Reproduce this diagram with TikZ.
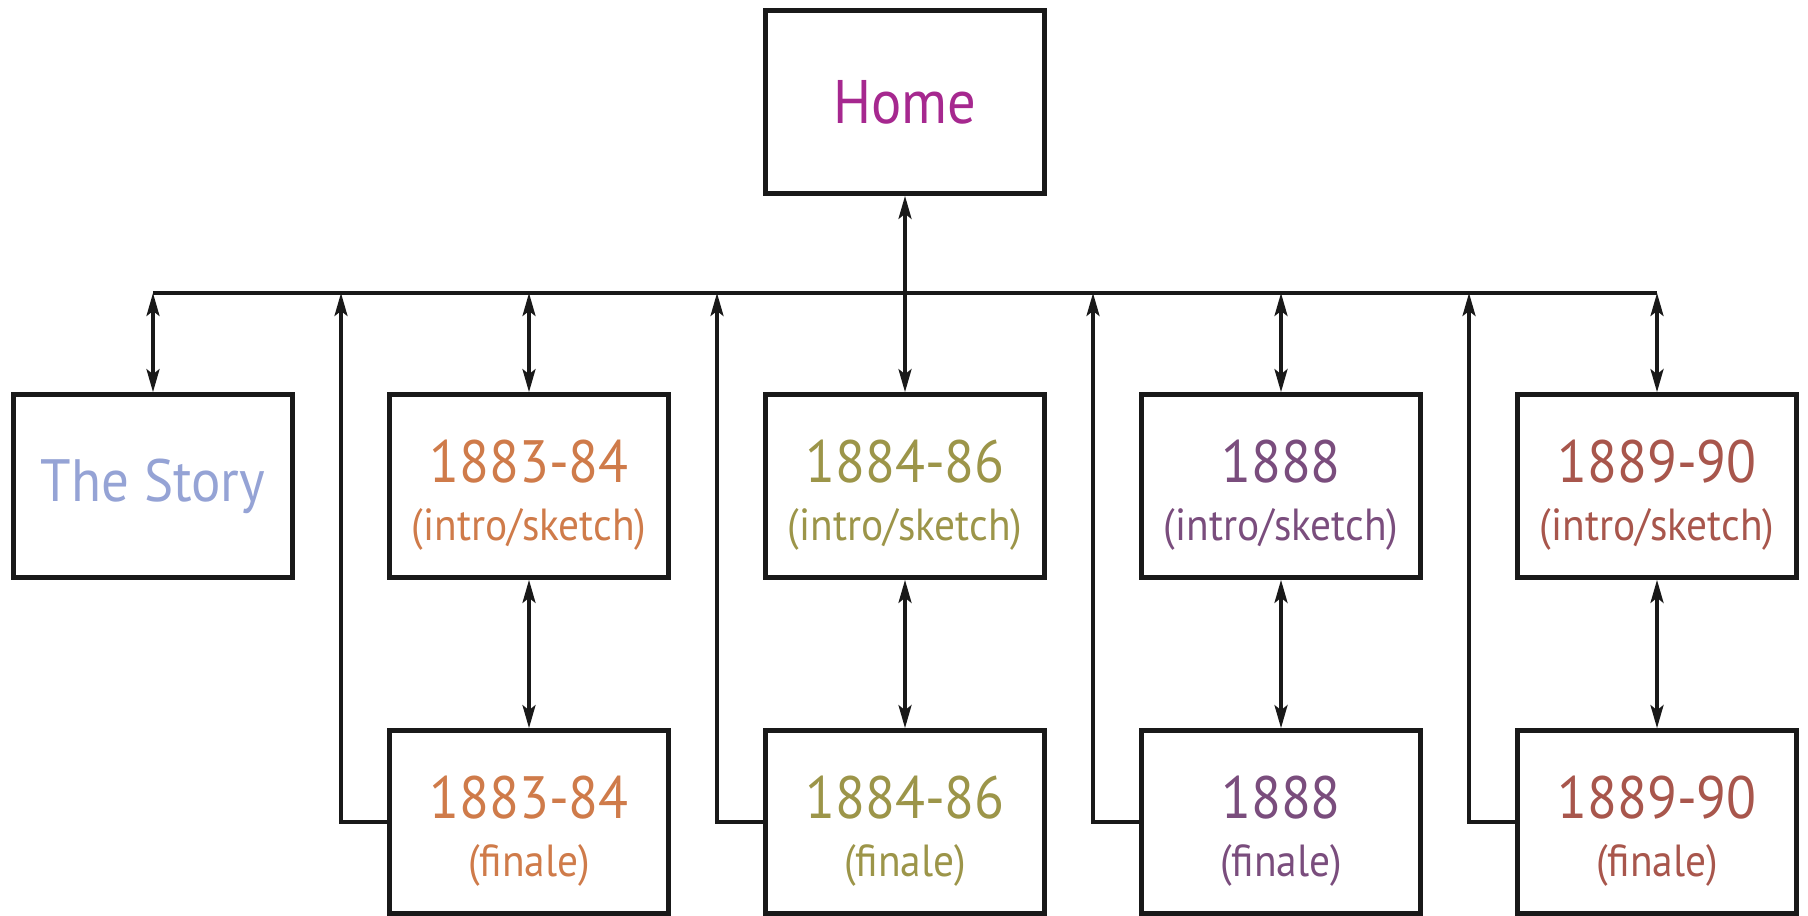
\documentclass[tikz,border=0pt]{standalone}
\usepackage{fontspec}
\setmainfont[FakeStretch=0.92]{PT Sans}
\usetikzlibrary{arrows.meta,positioning}
\definecolor{homecol}{RGB}{166,40,143}
\definecolor{storycol}{RGB}{149,163,213}
\definecolor{col1883}{RGB}{207,123,74}
\definecolor{col1884}{RGB}{156,149,73}
\definecolor{col1888}{RGB}{122,77,125}
\definecolor{col1889}{RGB}{168,86,76}
\newcommand{\yr}[1]{{\fontsize{17}{17}\selectfont\rule{0pt}{17.5pt}#1}}

\begin{document}
\begin{tikzpicture}[node distance = 3.76cm, auto]
\tikzstyle{page}=[rectangle, draw=black!90, line width=1.35pt, minimum width=2.79cm, minimum height=1.83cm, align=center, inner sep=0pt, font=\fontsize{12.8}{16.5}\selectfont]
\tikzstyle{link}=[line width=0.95pt, black!90, {Stealth[length=2.3mm,width=1.3mm,inset=0.5mm]}-{Stealth[length=2.3mm,width=1.3mm,inset=0.5mm]}]
\tikzstyle{back}=[line width=0.95pt, black!90, -{Stealth[length=2.3mm,width=1.3mm,inset=0.5mm]}]
\tikzstyle{rail}=[line width=1.3pt, black!90]
%
\useasboundingbox (0,0) rectangle (18.08,-9.15);

% first row
\node [page] (story) at (1.53,-4.86) {\fontsize{17}{17}\selectfont\color{storycol}The Story};
\node [page, text=col1883] (i1883) [right of=story] {\yr{1883-84}\\(intro/sketch)};
\node [page, text=col1884] (i1884) [right of=i1883] {\yr{1884-86}\\(intro/sketch)};
\node [page, text=col1888] (i1888) [right of=i1884] {\yr{1888}\\(intro/sketch)};
\node [page, text=col1889] (i1889) [right of=i1888] {\yr{1889-90}\\(intro/sketch)};
% second row
\node [page, text=col1883] (f1883) [below of=i1883, node distance=3.36cm] {\yr{1883-84}\\(finale)}
	edge [link] (i1883);
\node [page, text=col1884] (f1884) [below of=i1884, node distance=3.36cm] {\yr{1884-86}\\(finale)}
	edge [link] (i1884);
\node [page, text=col1888] (f1888) [below of=i1888, node distance=3.36cm] {\yr{1888}\\(finale)}
	edge [link] (i1888);
\node [page, text=col1889] (f1889) [below of=i1889, node distance=3.36cm] {\yr{1889-90}\\(finale)}
	edge [link] (i1889);
% top
\node [page, text=homecol] (home) [above of=i1884, node distance=3.84cm] {\fontsize{17.5}{17.5}\selectfont Home}
	edge [link] (i1884);

% bus
\coordinate (bus) at (0,-2.93);
\path (story.east) -- (i1883.west) coordinate[midway] (g1);
\path (i1883.east) -- (i1884.west) coordinate[midway] (g2);
\path (i1884.east) -- (i1888.west) coordinate[midway] (g3);
\path (i1888.east) -- (i1889.west) coordinate[midway] (g4);
\draw [rail] (story.north |- bus) -- (i1889.north |- bus);
\draw [link] (story.north |- bus) -- (story.north);
\draw [link] (i1883.north |- bus) -- (i1883.north);
\draw [link] (i1888.north |- bus) -- (i1888.north);
\draw [link] (i1889.north |- bus) -- (i1889.north);
\draw [back] (f1883.west) -| (g1 |- bus);
\draw [back] (f1884.west) -| (g2 |- bus);
\draw [back] (f1888.west) -| (g3 |- bus);
\draw [back] (f1889.west) -| (g4 |- bus);
\end{tikzpicture}
\end{document}
